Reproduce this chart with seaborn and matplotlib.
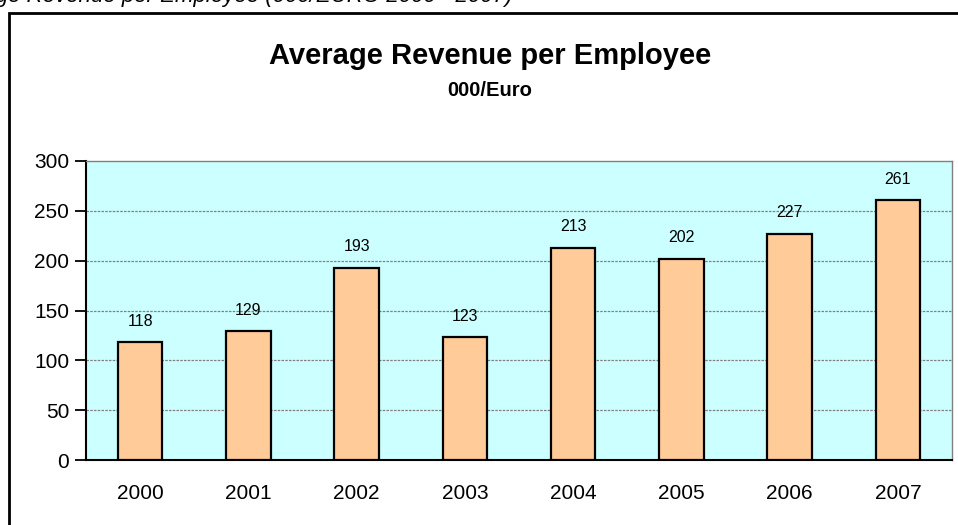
import matplotlib
matplotlib.use("Agg")
import matplotlib.pyplot as plt
import matplotlib.patches as mpatches
import seaborn as sns
import numpy as np

years = ["2000", "2001", "2002", "2003", "2004", "2005", "2006", "2007"]
revenue = [118, 129, 193, 123, 213, 202, 227, 261]
yticks = [0, 50, 100, 150, 200, 250, 300]

sns.set_style("white")
plt.rcParams['font.family'] = ['Liberation Sans', 'DejaVu Sans']
plt.rcParams['text.color'] = 'black'
plt.rcParams['xtick.color'] = 'black'
plt.rcParams['ytick.color'] = 'black'
plt.rcParams['xtick.labelcolor'] = 'black'
plt.rcParams['ytick.labelcolor'] = 'black'

W, H = 958, 525
fig = plt.figure(figsize=(W / 100, H / 100), dpi=100)
fig.patch.set_facecolor("white")

# outer chart frame
frame = mpatches.Rectangle((9 / W, -0.1), 1.2, (H - 13) / H + 0.1,
                           transform=fig.transFigure, fill=False,
                           edgecolor="black", linewidth=2, zorder=0)
fig.patches.append(frame)

# caption above the chart, cut off at the top edge as in the reference
fig.text(-62 / W, 1 - 2 / H, "Average Revenue per Employee (000/EURO 2000 - 2007)",
         fontsize=16, style="italic", va="baseline", ha="left", color="black")

ax = fig.add_axes([86 / W, (H - 460) / H, 866 / W, 299 / H])
ax.set_facecolor("#CCFFFF")

sns.barplot(x=years, y=revenue, ax=ax, color="#FFCC99", width=0.41,
            edgecolor="black", linewidth=1.6, saturation=1, zorder=3)

ax.set_ylim(0, 300)
ax.set_xlim(-0.5, len(years) - 0.5)
ax.set_yticks(yticks)
ax.set_yticklabels([str(v) for v in yticks], fontsize=15)
for v in yticks[1:-1]:
    ax.axhline(v, color="#808080", linestyle=(0, (2, 1)), linewidth=0.9, zorder=1)

ax.set_xticks(range(len(years)))
ax.set_xticklabels(years, fontsize=15)
ax.set_xticks(np.arange(-0.5, len(years), 1.0), minor=True)
ax.tick_params(axis="x", which="major", length=0, pad=17)
ax.tick_params(axis="x", which="minor", length=6, width=1.3, direction="out", color="black")
ax.tick_params(axis="y", length=8, width=1.3, direction="out", color="black", pad=4, left=True)
ax.set_xlabel("")
ax.set_ylabel("")

for s in ["left", "bottom"]:
    ax.spines[s].set_color("black")
    ax.spines[s].set_linewidth(1.5)
for s in ["top", "right"]:
    ax.spines[s].set_visible(True)
    ax.spines[s].set_color("#808080")
    ax.spines[s].set_linewidth(1.0)

for i, v in enumerate(revenue):
    ax.annotate(str(v), (i, v), xytext=(0, 15), textcoords="offset points",
                ha="center", va="center", fontsize=11.5, color="black")

fig.text(490 / W, 1 - 64 / H, "Average Revenue per Employee", fontsize=21,
         fontweight="bold", ha="center", va="baseline")
fig.text(490 / W, 1 - 96 / H, "000/Euro", fontsize=14.5,
         fontweight="bold", ha="center", va="baseline")

fig.savefig("out.png", dpi=100)
